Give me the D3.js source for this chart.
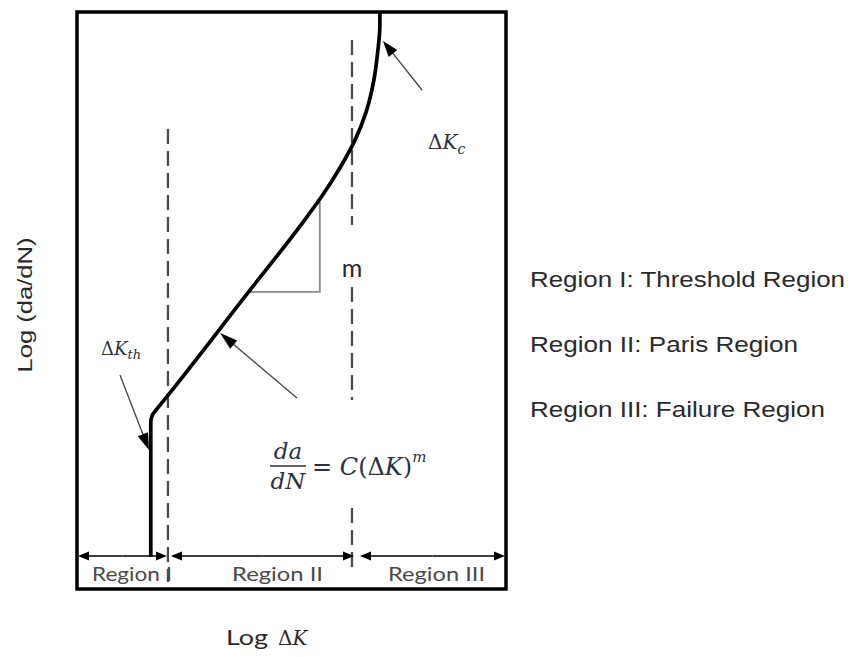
<!DOCTYPE html>
<html>
<head>
<meta charset="utf-8">
<script src="https://cdn.jsdelivr.net/npm/d3@7/dist/d3.min.js"></script>
<style>
  body { margin: 0; background: #fff; }
  svg { display: block; }
</style>
</head>
<body>
<svg id="chart" width="855" height="657"></svg>
<script>
// Schematic fatigue crack growth curve: log(da/dN) against log(ΔK), arbitrary units 0–10.
const logDK   = [1.72, 1.72, 1.76, 1.84, 2.09, 4.00, 5.20, 5.71, 6.13, 6.48, 6.74, 6.92, 7.01, 7.06, 7.06];
const logRate = [0.56, 2.89, 3.02, 3.10, 3.33, 5.15, 6.29, 6.81, 7.30, 7.78, 8.27, 8.82, 9.31, 9.77, 10.0];

// Region boundaries along log ΔK
const regionNames = ["Region I", "Region II", "Region III"];
const regionEdges = [0, 2.12, 6.41, 10];

// Slope triangle on the Paris line (run, then rise)
const triangleDK   = [4.03, 5.66, 5.66];
const triangleRate = [5.15, 5.15, 6.71];

const legendLines = ["Region I: Threshold Region", "Region II: Paris Region", "Region III: Failure Region"];

const svg = d3.select("#chart");
const x = d3.scaleLinear().domain([0, 10]).range([77, 506]);
const y = d3.scaleLinear().domain([0, 10]).range([589, 12]);

const ink = "#000";
const textInk = "#2a2a2a";
const mathInk = "#2b3140";

// filled arrowhead + shaft
function arrow(x1, y1, x2, y2, opts) {
  const o = Object.assign({ len: 15, half: 5, stroke: "#444", width: 1.3, head: "#000" }, opts || {});
  const dx = x2 - x1, dy = y2 - y1, d = Math.hypot(dx, dy);
  const ux = dx / d, uy = dy / d;
  const bx = x2 - ux * o.len, by = y2 - uy * o.len;
  svg.append("line")
    .attr("x1", x1).attr("y1", y1).attr("x2", bx + ux * 2).attr("y2", by + uy * 2)
    .attr("stroke", o.stroke).attr("stroke-width", o.width);
  svg.append("path")
    .attr("d", `M${x2},${y2}L${bx - uy * o.half},${by + ux * o.half}L${bx + uy * o.half},${by - ux * o.half}Z`)
    .attr("fill", o.head);
}

// dashed region dividers
function vdash(xv, ya, yb) {
  svg.append("line")
    .attr("x1", x(xv)).attr("x2", x(xv)).attr("y1", ya).attr("y2", yb)
    .attr("stroke", "#4a4a4a").attr("stroke-width", 2.3)
    .attr("stroke-dasharray", "15,7");
}
vdash(regionEdges[1], 129, 582);
vdash(regionEdges[2], 40, 225);
vdash(regionEdges[2], 287, 400);
vdash(regionEdges[2], 508, 572);

// slope triangle
svg.append("path")
  .attr("d", d3.line().x((d) => x(d[0])).y((d) => y(d[1]))(triangleDK.map((v, i) => [v, triangleRate[i]])))
  .attr("fill", "none").attr("stroke", "#888").attr("stroke-width", 1.8);

// the crack growth curve
const pts = logDK.map((v, i) => [v, logRate[i]]);
svg.append("path")
  .attr("d", d3.line().x((d) => x(d[0])).y((d) => y(d[1])).curve(d3.curveMonotoneY)(pts))
  .attr("fill", "none").attr("stroke", ink).attr("stroke-width", 3.7)
  .attr("stroke-linejoin", "round");

// region extent arrows
const barY = 556;
const ends = [
  [x(regionEdges[0]) + 1, x(regionEdges[1]) - 1],
  [x(regionEdges[1]) + 3, x(regionEdges[2]) + 2],
  [x(regionEdges[2]) + 8, x(regionEdges[3]) - 1]
];
ends.forEach(([a, b]) => {
  const mid = (a + b) / 2;
  arrow(mid, barY, a, barY, { len: 11, half: 4.5, stroke: ink, width: 1.4 });
  arrow(mid, barY, b, barY, { len: 11, half: 4.5, stroke: ink, width: 1.4 });
});

// region labels in the strip
const stripLeft = [92, 232, 388];
const stripLen = [80, 91, 97];
regionNames.forEach((n, i) => {
  svg.append("text")
    .attr("x", stripLeft[i])
    .attr("y", 581)
    .attr("font-family", "Lato, 'Open Sans', sans-serif")
    .attr("font-size", 20)
    .attr("fill", "#4a4a4a")
    .attr("textLength", stripLen[i]).attr("lengthAdjust", "spacingAndGlyphs")
    .text(n);
});

// frame
svg.append("rect")
  .attr("x", x(0)).attr("y", y(10)).attr("width", x(10) - x(0)).attr("height", y(0) - y(10))
  .attr("fill", "none").attr("stroke", ink).attr("stroke-width", 3.5);

// annotation arrows
arrow(422, 90, 383, 41, { len: 16, half: 5.5 });
arrow(297, 398, 220, 333, { len: 18, half: 5.5 });
arrow(120, 375, 149, 450, { len: 17, half: 5.5 });

// ΔK_c
const kc = svg.append("text").attr("x", 428).attr("y", 149)
  .attr("font-family", "'DejaVu Serif', serif").attr("font-size", 20).attr("fill", mathInk);
kc.append("tspan").text("Δ");
kc.append("tspan").attr("font-style", "italic").text("K");
kc.append("tspan").attr("font-style", "italic").attr("font-size", 14).attr("dy", 5).text("c");

// ΔK_th
const kth = svg.append("text").attr("x", 101).attr("y", 355)
  .attr("font-family", "'DejaVu Serif', serif").attr("font-size", 18).attr("fill", mathInk);
kth.append("tspan").text("Δ");
kth.append("tspan").attr("font-style", "italic").text("K");
kth.append("tspan").attr("font-style", "italic").attr("font-size", 13).attr("dy", 4).text("th");

// slope label
svg.append("text").attr("x", 352).attr("y", 277).attr("text-anchor", "middle")
  .attr("font-family", "Lato, sans-serif").attr("font-size", 25).attr("fill", textInk).text("m");

// Paris law: da/dN = C(ΔK)^m
const eq = svg.append("g").attr("font-family", "'DejaVu Serif', serif").attr("fill", mathInk).attr("font-style", "italic");
eq.append("text").attr("x", 288).attr("y", 459).attr("text-anchor", "middle").attr("font-size", 23).text("da");
eq.append("text").attr("x", 288).attr("y", 489).attr("text-anchor", "middle").attr("font-size", 23).text("dN");
svg.append("line").attr("x1", 270).attr("x2", 306).attr("y1", 466).attr("y2", 466)
  .attr("stroke", mathInk).attr("stroke-width", 1.5);
const rhs = eq.append("text").attr("x", 312).attr("y", 475).attr("font-size", 24);
rhs.append("tspan").attr("font-style", "normal").text("= ");
rhs.append("tspan").text("C");
rhs.append("tspan").attr("font-style", "normal").text("(Δ");
rhs.append("tspan").text("K");
rhs.append("tspan").attr("font-style", "normal").text(")");
rhs.append("tspan").attr("font-size", 15).attr("dy", -13).text("m");

// legend of regions
legendLines.forEach((t, i) => {
  svg.append("text").attr("x", 530).attr("y", 287 + i * 65)
    .attr("font-family", "'Liberation Sans', Arial, sans-serif").attr("font-size", 21.5)
    .attr("fill", textInk)
    .attr("textLength", [315, 268, 295][i]).attr("lengthAdjust", "spacingAndGlyphs")
    .text(t);
});

// axis titles
svg.append("text")
  .attr("transform", "translate(32,305) rotate(-90)")
  .attr("text-anchor", "middle")
  .attr("font-family", "'Liberation Sans', Arial, sans-serif").attr("font-size", 20)
  .attr("fill", textInk)
  .attr("textLength", 135).attr("lengthAdjust", "spacingAndGlyphs")
  .text("Log (da/dN)");

svg.append("text").attr("x", 226).attr("y", 645)
  .attr("font-family", "Lato, sans-serif").attr("font-size", 21).attr("fill", textInk)
  .attr("textLength", 42).attr("lengthAdjust", "spacingAndGlyphs")
  .text("Log");
const dk = svg.append("text").attr("x", 278).attr("y", 645)
  .attr("font-family", "'DejaVu Serif', serif").attr("font-size", 20).attr("fill", textInk);
dk.append("tspan").text("Δ");
dk.append("tspan").attr("font-style", "italic").text("K");
</script>
</body>
</html>
